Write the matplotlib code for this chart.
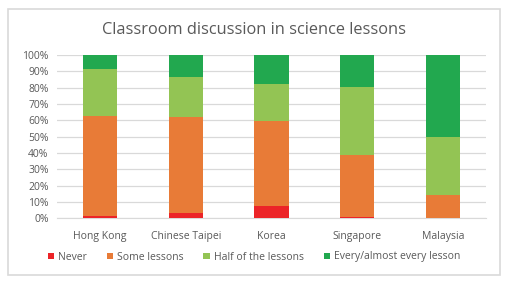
import matplotlib
matplotlib.use("Agg")
import matplotlib.pyplot as plt
from matplotlib.patches import Rectangle
import numpy as np

countries = ["Hong Kong", "Chinese Taipei", "Korea", "Singapore", "Malaysia"]
never = [1.6, 3.2, 7.7, 0.5, 0.0]
some_lessons = [61.2, 58.8, 51.6, 38.3, 14.3]
half_lessons = [28.8, 24.7, 22.7, 41.7, 35.6]
every_lesson = [8.4, 13.3, 18.0, 19.5, 50.1]
series_names = ["Never", "Some lessons", "Half of the lessons", "Every/almost every lesson"]
colors = ["#EC2428", "#E87B37", "#93C454", "#22A84F"]
yticks = list(range(0, 101, 10))

plt.rcParams['font.family'] = ['Open Sans', 'DejaVu Sans']
W, H = 508, 283
fig = plt.figure(figsize=(W / 100, H / 100), dpi=100)
fig.patch.set_facecolor("white")
fig.add_artist(Rectangle((8 / W, 1 - 275 / H), 492 / W, 266 / H, transform=fig.transFigure,
                         facecolor="white", edgecolor="#D9D9D9", linewidth=1.2, zorder=0))

ax = fig.add_axes([57 / W, 1 - 218.3 / H, 429 / W, 163.3 / H])
x = np.arange(len(countries))
bottom = np.zeros(len(countries))
handles = []
for vals, name, c in zip([never, some_lessons, half_lessons, every_lesson], series_names, colors):
    b = ax.bar(x, vals, 0.4, bottom=bottom, color=c, label=name, zorder=3)
    handles.append(b)
    bottom += np.array(vals)

ax.set_xlim(-0.5, len(countries) - 0.5)
ax.set_ylim(0, 100)
ax.set_yticks(yticks)
ax.set_yticklabels([f"{t}%" for t in yticks])
ax.set_xticks(x)
ax.set_xticklabels(countries)
ax.tick_params(axis="both", length=0, labelsize=7.5, colors="#595959")
ax.tick_params(axis="x", pad=9)
ax.tick_params(axis="y", pad=6)
ax.grid(axis="y", color="#D9D9D9", linewidth=0.9, zorder=0)
for s in ["top", "right", "left"]:
    ax.spines[s].set_visible(False)
ax.spines["bottom"].set_color("#D9D9D9")
ax.set_facecolor("none")

fig.text(0.5, 1 - 30 / H, "Classroom discussion in science lessons", ha="center", va="center",
         fontsize=11.8, color="#595959")

fig.legend(handles=handles, labels=series_names, loc="center", bbox_to_anchor=(0.5, 1 - 257 / H),
           ncol=4, frameon=False, fontsize=7.5, labelcolor="#595959", handlelength=0.6,
           handleheight=0.6, handletextpad=0.4, columnspacing=1.9)

fig.savefig("out.png", dpi=100, facecolor="white")
